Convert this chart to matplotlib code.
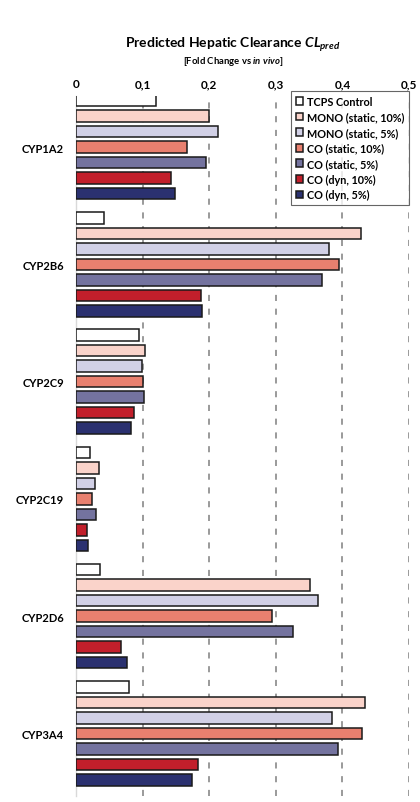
import matplotlib
matplotlib.use('Agg')
import matplotlib.pyplot as plt
import numpy as np

plt.rcParams['font.family'] = ['Lato', 'DejaVu Sans']
plt.rcParams['font.weight'] = 'bold'
plt.rcParams['mathtext.fontset'] = 'custom'
plt.rcParams['mathtext.rm'] = 'Lato:bold'
plt.rcParams['mathtext.it'] = 'Lato:bold:italic'

# enzymes (top to bottom)
enzymes = ['CYP1A2', 'CYP2B6', 'CYP2C9', 'CYP2C19', 'CYP2D6', 'CYP3A4']

# series names, in drawing order inside each group
series = ['TCPS Control', 'MONO (static, 10%)', 'MONO (static, 5%)',
          'CO (static, 10%)', 'CO (static, 5%)', 'CO (dyn, 10%)', 'CO (dyn, 5%)']
colors = ['#ffffff', '#fad3ca', '#d1d0e6', '#e8806f', '#74739f', '#c21f2b', '#2b3170']

# predicted clearance, fold change vs in vivo
tcps_control = [0.120, 0.042, 0.094, 0.021, 0.036, 0.079]
mono_static_10 = [0.200, 0.428, 0.104, 0.034, 0.352, 0.434]
mono_static_5 = [0.213, 0.380, 0.099, 0.028, 0.363, 0.384]
co_static_10 = [0.167, 0.395, 0.100, 0.024, 0.294, 0.430]
co_static_5 = [0.195, 0.370, 0.102, 0.030, 0.325, 0.393]
co_dyn_10 = [0.142, 0.188, 0.087, 0.017, 0.068, 0.183]
co_dyn_5 = [0.148, 0.189, 0.082, 0.018, 0.076, 0.174]

values = [tcps_control, mono_static_10, mono_static_5, co_static_10,
          co_static_5, co_dyn_10, co_dyn_5]

fig = plt.figure(figsize=(4.2, 8.03), dpi=100)
ax = fig.add_axes([0.181, 0.008, 0.793, 0.871])

y = np.arange(len(enzymes))
pitch = 0.132
for i, (name, vals, c) in enumerate(zip(series, values, colors)):
    off = (i - 3) * pitch
    ax.barh(y + off, vals, height=0.098, color=c, edgecolor='#1a1a1a',
            linewidth=1.1, label=name, zorder=3)

ax.set_xlim(0, 0.5)
ax.set_ylim(5.53, -0.435)
ax.set_xticks([0, 0.1, 0.2, 0.3, 0.4, 0.5])
ax.set_xticklabels(['0', '0,1', '0,2', '0,3', '0,4', '0,5'], fontsize=8.5, fontweight='bold')
ax.xaxis.tick_top()
ax.tick_params(axis='x', length=0, pad=5)
ax.set_yticks(y)
ax.set_yticklabels(enzymes, fontsize=8, fontweight='bold')
ax.tick_params(axis='y', length=0, pad=8.5)

for s in ['top', 'right', 'bottom']:
    ax.spines[s].set_visible(False)
ax.spines['left'].set_color('#d9d9d9')
ax.spines['left'].set_linewidth(1)

for xv in [0.1, 0.2, 0.3, 0.4, 0.5]:
    ax.axvline(xv, color='#7f7f7f', linestyle=(0, (4, 5)), linewidth=1.1, zorder=1)

leg = ax.legend(loc='upper right', bbox_to_anchor=(409 / 420, 1 - 92 / 803),
                bbox_transform=fig.transFigure, fontsize=7.8,
                frameon=True, fancybox=False, edgecolor='#404040',
                handlelength=0.7, handleheight=0.7, handletextpad=0.3,
                labelspacing=0.42, borderpad=0.45, borderaxespad=0)
leg.get_frame().set_linewidth(0.8)
leg.set_zorder(5)
for t in leg.get_texts():
    t.set_fontweight('bold')

fig.text(0.555, 0.944, r'Predicted Hepatic Clearance $\mathit{CL}_{\mathit{pred}}$',
         ha='center', va='center', fontsize=10, fontweight='bold')
fig.text(0.555, 0.923, r'[Fold Change vs $\mathit{in\ vivo}$]',
         ha='center', va='center', fontsize=6.8, fontweight='bold')

fig.savefig('out.png', dpi=100)
